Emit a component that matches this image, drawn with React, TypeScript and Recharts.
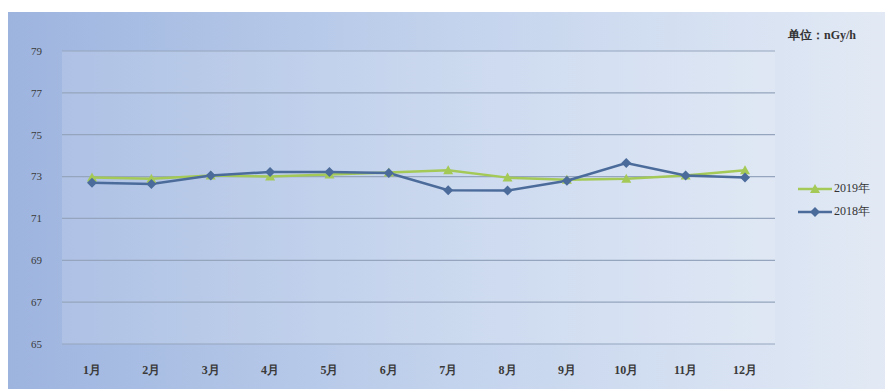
import React from "react";
import { LineChart, Line, XAxis, YAxis, CartesianGrid } from "recharts";

const months = ["1月", "2月", "3月", "4月", "5月", "6月", "7月", "8月", "9月", "10月", "11月", "12月"];
const values2019 = [72.95, 72.9, 73.05, 73.0, 73.1, 73.2, 73.3, 72.95, 72.85, 72.9, 73.05, 73.3];
const values2018 = [72.7, 72.65, 73.05, 73.22, 73.22, 73.17, 72.35, 72.33, 72.8, 73.65, 73.05, 72.95];
const yTicks = [65, 67, 69, 71, 73, 75, 77, 79];

const series = [
    { key: "y2019", name: "2019年", color: "#a4c957", shape: "triangle" },
    { key: "y2018", name: "2018年", color: "#4b6b9b", shape: "diamond" },
];

const data = months.map((m, i) => ({ month: m, y2019: values2019[i], y2018: values2018[i] }));

const FONT = '"Liberation Serif", "DejaVu Serif", serif';

// @ts-ignore
const Marker = ({ cx, cy, shape, color }) => {
    if (cx == null || cy == null) return null;
    if (shape === "triangle") {
        return <path d={`M${cx},${cy - 5} L${cx + 5},${cy + 4} L${cx - 5},${cy + 4} Z`} fill={color} />;
    }
    return <path d={`M${cx},${cy - 5} L${cx + 5},${cy} L${cx},${cy + 5} L${cx - 5},${cy} Z`} fill={color} />;
};

const App = () => {
    return (
        <div
            style={{
                position: "relative",
                width: 885,
                height: 377,
                marginTop: 4,
                background: "linear-gradient(to right, #9db4df 0%, #c3d3ed 50%, #e3eaf5 100%)",
                fontFamily: FONT,
            }}
        >
            <LineChart width={885} height={377} data={data} margin={{ top: 39, right: 118, bottom: 15, left: 0 }}>
                <CartesianGrid vertical={false} stroke="#95a5bd" strokeWidth={1.2} fill="rgba(255,255,255,0.14)" />
                <XAxis
                    dataKey="month"
                    height={30}
                    padding={{ left: 30, right: 30 }}
                    axisLine={false}
                    tickLine={false}
                    tickMargin={15}
                    tick={{ fill: "#3a3a3a", fontSize: 12, fontFamily: FONT, fontWeight: "bold" }}
                />
                <YAxis
                    width={54}
                    domain={[65, 79]}
                    ticks={yTicks}
                    axisLine={false}
                    tickLine={false}
                    tickMargin={14}
                    tick={{ fill: "#3a3a3a", fontSize: 11, fontFamily: FONT }}
                />
                {series.map((s) => (
                    <Line
                        key={s.key}
                        dataKey={s.key}
                        name={s.name}
                        stroke={s.color}
                        strokeWidth={2.5}
                        isAnimationActive={false}
                        // @ts-ignore
                        dot={(p) => <Marker key={`${s.key}-${p.index}`} cx={p.cx} cy={p.cy} shape={s.shape} color={s.color} />}
                        activeDot={false}
                    />
                ))}
            </LineChart>
            <div style={{ position: "absolute", left: 780, top: 15, fontSize: 12, color: "#333", fontWeight: "bold" }}>
                单位：nGy/h
            </div>
            <div style={{ position: "absolute", left: 790, top: 165 }}>
                {series.map((s) => (
                    <div key={s.key} style={{ display: "flex", alignItems: "center", height: 23, fontSize: 12, color: "#333" }}>
                        <svg width={34} height={12}>
                            <line x1={0} y1={6} x2={34} y2={6} stroke={s.color} strokeWidth={2.5} />
                            <Marker cx={17} cy={6} shape={s.shape} color={s.color} />
                        </svg>
                        <span style={{ marginLeft: 2 }}>{s.name}</span>
                    </div>
                ))}
            </div>
        </div>
    );
};

export default App;
